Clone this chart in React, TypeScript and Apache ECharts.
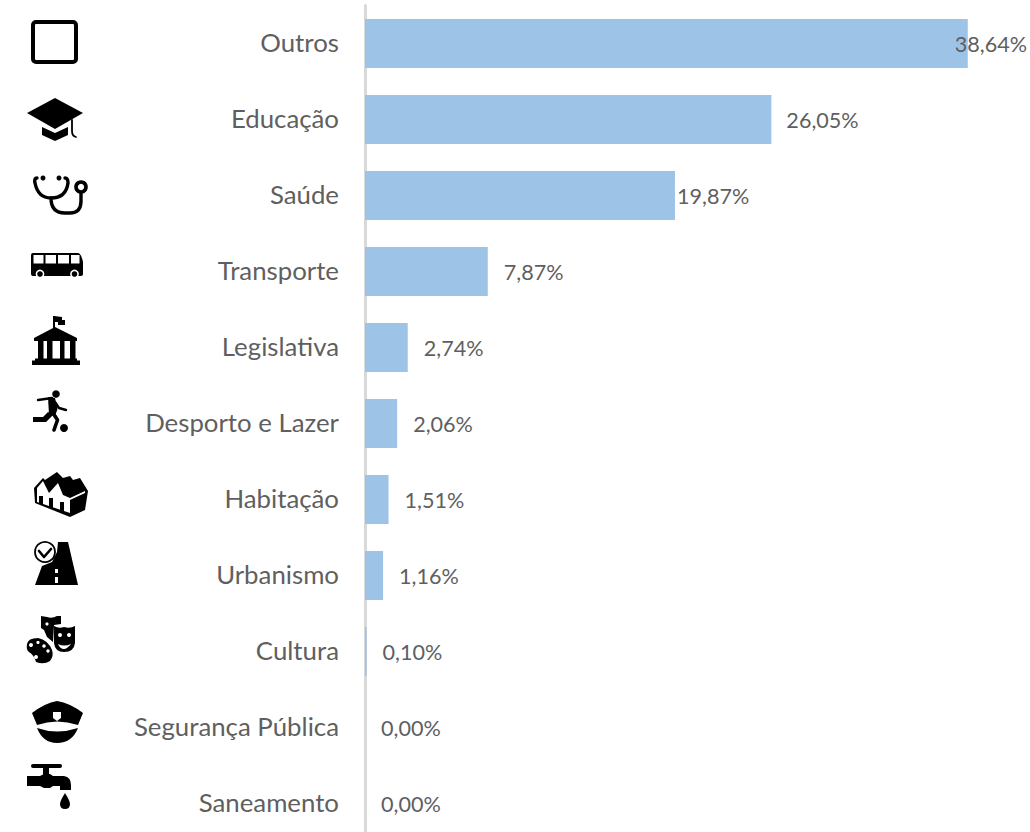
import React, { useEffect, useRef } from "react";
import * as echarts from "echarts";

const categories = ["Outros", "Educação", "Saúde", "Transporte", "Legislativa", "Desporto e Lazer", "Habitação", "Urbanismo", "Cultura", "Segurança Pública", "Saneamento"];
const shares = [38.64, 26.05, 19.87, 7.87, 2.74, 2.06, 1.51, 1.16, 0.1, 0, 0];
const labelGaps = [-13, 15, 2, 16, 16, 16, 16, 16, 16, 16, 16];

const BLACK = "#000";
const WHITE = "#fff";
let shapeId = 0;
const fillShape = (d: string, fill = BLACK) => {
  const name = "icon" + shapeId++;
  echarts.graphic.registerShape(name, echarts.graphic.extendPath(d, {}) as any);
  return { type: name, silent: true, style: { fill, stroke: "none" } };
};
const lineShape = (d: string, lineWidth: number, stroke = BLACK) => {
  const name = "icon" + shapeId++;
  echarts.graphic.registerShape(name, echarts.graphic.extendPath(d, {}) as any);
  return { type: name, silent: true, style: { fill: "none", stroke, lineWidth, lineCap: "round", lineJoin: "round" } };
};
const dot = (cx: number, cy: number, r: number, fill = BLACK, stroke = "none", lineWidth = 0) => ({
  type: "circle", silent: true, shape: { cx, cy, r }, style: { fill, stroke, lineWidth },
});
const box = (x: number, y: number, width: number, height: number, fill = WHITE, r = 0) => ({
  type: "rect", silent: true, shape: { x, y, width, height, r }, style: { fill },
});

const buildIcons = () => [
  // Outros
  { type: "rect", silent: true, shape: { x: 33, y: 22, width: 43, height: 40, r: 3 }, style: { fill: WHITE, stroke: BLACK, lineWidth: 4 } },
  // Educação
  fillShape("M27 113L55 98L83 113L55 129Z"),
  fillShape("M42 127L55 133L68 127L68 135L55 141L42 135Z"),
  lineShape("M72 120L72 131Q72 136 76 137", 1.8),
  // Saúde
  lineShape("M37 178Q34 178 35 183Q38 198 51 198Q66 198 68 183Q68 178 65 178", 3.4),
  dot(43, 178, 2.5), dot(59, 178, 2.5),
  lineShape("M51 198Q51 213 65 213L70 213Q81 213 81 201L81 194", 3.4),
  dot(81, 187, 5, WHITE, BLACK, 3.6),
  // Transporte
  fillShape("M33 253L78 253Q81 253 83 262L83 274Q83 276 81 276L33 276Q31 276 31 274L31 255Q31 253 33 253Z"),
  box(33.5, 255, 10, 8.5), box(45.5, 255, 10.5, 8.5), box(58, 255, 11, 8.5), box(71, 255, 8.5, 8.5),
  dot(40, 274, 3.6, BLACK, WHITE, 1.6), dot(74.5, 274, 3.6, BLACK, WHITE, 1.6),
  // Legislativa
  box(53, 316, 2, 12, BLACK),
  fillShape("M54 316L62 317L62 320L65 320L65 325L58 325L58 322L54 322Z"),
  fillShape("M34 338L55 327L77 338L77 341L34 341Z"),
  box(38, 341, 5.5, 19, BLACK), box(47, 341, 5.5, 19, BLACK), box(60, 341, 4.5, 19, BLACK), box(70, 341, 5.5, 19, BLACK),
  box(35, 358.5, 42, 2.5, BLACK), box(32, 360.5, 48, 4.5, BLACK),
  // Desporto e Lazer
  dot(56, 394, 3.8),
  lineShape("M38 400L52 398", 2.4),
  fillShape("M48 397L55 398L57.5 409L55 416L49 415Z"),
  lineShape("M55 402L59 408L66 410", 2.4),
  fillShape("M48 412L53 415L46 422L33 422L33 417L43 417Z"),
  lineShape("M53 413L57.5 420L54 430", 3.6),
  dot(64, 428, 4),
  // Habitação
  fillShape("M34 488L43 478L45 480L57 472L63 478L70 476L73 480L80 478L88 491L85 510L70 517L35 503Z"),
  fillShape("M37 488L43 481L49 493L58 483L63 495L70 498L70 513L37 502Z", WHITE),
  fillShape("M70 498L85 491L85 493L70 500Z", WHITE),
  box(39, 496, 4, 8, BLACK), box(49, 498, 4, 10, BLACK), box(60, 502, 4, 10, BLACK),
  // Urbanismo
  fillShape("M58 542L68 542L78 585L35 585L42 566L52 562L57 552Z"),
  box(55, 577, 3, 6), box(55, 569, 3, 4),
  dot(45, 552, 10, WHITE, BLACK, 1.8),
  lineShape("M39 551L44 557L51 549", 2.6),
  // Cultura
  fillShape("M41 616L47 617Q52 619 57 616L61 616L61 624L54 625L53 642L47 637L44 630L41 628Z"),
  dot(47, 624, 1.6, WHITE),
  fillShape("M54 626Q59 629 64 627Q70 629 75 626L75 643Q74 652 64 652Q55 652 54 643Z"),
  dot(60, 635, 2, WHITE), dot(69, 635, 2, WHITE),
  fillShape("M58 644Q64 647 71 644Q67 649 64 649Q60 649 58 644Z", WHITE),
  fillShape("M27 644Q28 638 38 638Q48 640 52 650Q54 656 50 661Q44 665 36 662Q34 655 29 652Q26 650 27 644Z"),
  dot(31, 645, 2, WHITE), dot(38, 642.5, 1.6, WHITE), dot(44, 646, 1.8, WHITE), dot(48, 651, 1.7, WHITE), dot(36, 657, 2, WHITE),
  // Segurança Pública
  fillShape("M32 713Q45 703 57 701Q70 703 83 713L78 725Q57 718 37 725Z"),
  fillShape("M53 712L61 712L61 718L57 721L53 718Z", WHITE),
  fillShape("M37 728Q57 735 78 728Q72 743 57 743Q43 743 37 728Z"),
  // Saneamento
  box(31, 764, 31, 4, BLACK, 2),
  box(43, 765, 6, 11, BLACK),
  fillShape("M27 776L40 776L44 774L50 774L53 776L64 776Q71 777 71 785L71 790L60 790L60 786L53 786L50 788L44 788L40 786L27 786Z"),
  fillShape("M65 793Q70 801 70 804Q70 809 65 809Q60 809 60 804Q60 801 65 793Z"),
];

export default function App() {
  const ref = useRef<HTMLDivElement>(null);
  useEffect(() => {
    document.body.style.margin = "0";
    const chart = echarts.init(ref.current!, undefined, { renderer: "svg" });
    chart.setOption({
      animation: false,
      backgroundColor: "#fff",
      grid: { left: 365, top: 5.5, width: 665, height: 836 },
      xAxis: { type: "value", min: 0, max: 42.63, show: false },
      yAxis: {
        type: "category",
        inverse: true,
        data: categories,
        axisLine: { show: true, lineStyle: { color: "#d9d9d9", width: 3 } },
        axisTick: { show: false },
        axisLabel: { color: "#5f5f5f", fontFamily: "Lato", fontSize: 25.8, margin: 26, interval: 0, verticalAlign: "bottom", lineHeight: 4 },
      },
      series: [
        {
          type: "bar",
          barWidth: 49,
          itemStyle: { color: "#9dc3e6" },
          z: 3,
          data: shares.map((value, i) => ({
            value,
            label: {
              show: true,
              position: "right",
              distance: labelGaps[i],
              color: "#5f5f5f",
              fontFamily: "Lato",
              fontSize: 21.6,
              formatter: () => value.toFixed(2).replace(".", ",") + "%",
            },
          })),
        },
      ],
      graphic: { elements: buildIcons() },
    });
    return () => chart.dispose();
  }, []);
  return (
    <div style={{ width: 1030, height: 832, overflow: "hidden" }}>
      <div ref={ref} style={{ width: 1030, height: 842 }} />
    </div>
  );
}
